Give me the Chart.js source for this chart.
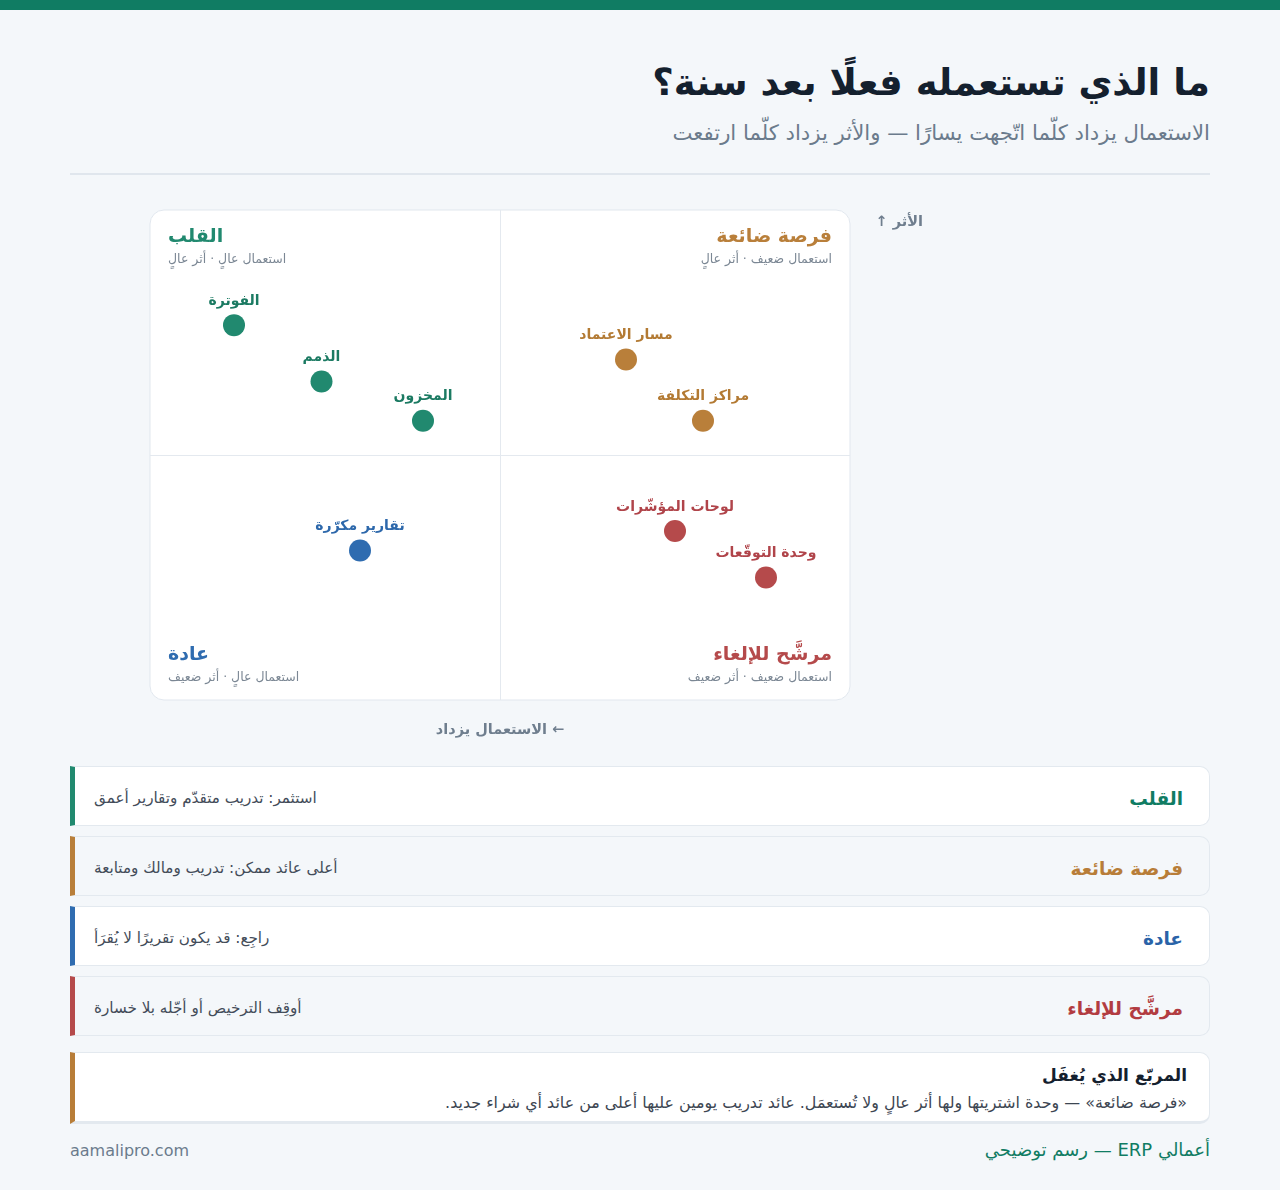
<!DOCTYPE html>
<html lang="ar">
<head>
<meta charset="utf-8">
<script src="https://cdn.jsdelivr.net/npm/chart.js@4.4.0/dist/chart.umd.min.js"></script>
<style>
  html, body { margin: 0; padding: 0; }
  body {
    width: 1280px; height: 1190px; position: relative; overflow: hidden;
    background: #f4f7fa; font-family: "DejaVu Sans", sans-serif;
  }
  .topbar { position: absolute; left: 0; top: 0; width: 1280px; height: 10px; background: #107c63; }
  .title {
    position: absolute; right: 70px; top: 61px; direction: rtl;
    font-size: 37px; font-weight: bold; color: #14202e; white-space: nowrap;
  }
  .subtitle {
    position: absolute; right: 70px; top: 120px; direction: rtl;
    font-size: 21.2px; color: #6b7b8c; white-space: nowrap;
  }
  .divider { position: absolute; left: 70px; top: 173px; width: 1140px; height: 2px; background: #e0e6ed; }
  .chartwrap { position: absolute; left: 70px; top: 190px; width: 1140px; height: 560px; }
  .card {
    position: absolute; left: 70px; width: 1140px; height: 60px; box-sizing: border-box;
    border: 1px solid #e3e9ef; border-left-width: 5px; border-radius: 0 10px 10px 0;
    display: flex; flex-direction: row-reverse; align-items: center; padding: 4px 26px 0 19px;
    direction: ltr;
  }
  .card .name { font-size: 18.5px; font-weight: bold; direction: rtl; }
  .card .desc { font-size: 15.2px; color: #434c59; direction: rtl; margin-right: auto; }
  .callout {
    position: absolute; left: 70px; top: 1052px; width: 1140px; height: 72px; box-sizing: border-box;
    background: #fff; border: 1px solid #e3e9ef; border-left: 5px solid #b87d38; border-bottom: 3px solid #e3e9ef;
    border-radius: 0 10px 10px 0; direction: rtl; padding: 12px 22px 0 0;
  }
  .callout .h { font-size: 17px; font-weight: bold; color: #14202e; }
  .callout .t { font-size: 15.9px; color: #3d4652; margin-top: 8px; }
  .foot-l { position: absolute; left: 70px; top: 1141px; font-size: 16px; color: #6b7b8c; }
  .foot-r { position: absolute; right: 70px; top: 1139px; font-size: 18px; color: #107c63; direction: rtl; }
</style>
</head>
<body>
<div class="topbar"></div>
<div class="title">ما الذي تستعمله فعلًا بعد سنة؟</div>
<div class="subtitle">الاستعمال يزداد كلّما اتّجهت يسارًا — والأثر يزداد كلّما ارتفعت</div>
<div class="divider"></div>

<div class="chartwrap"><canvas id="quadChart"></canvas></div>

<div id="cards"></div>

<div class="callout">
  <div class="h">المربّع الذي يُغفَل</div>
  <div class="t">«فرصة ضائعة» — وحدة اشتريتها ولها أثر عالٍ ولا تُستعمَل. عائد تدريب يومين عليها أعلى من عائد أي شراء جديد.</div>
</div>

<div class="foot-l">aamalipro.com</div>
<div class="foot-r">أعمالي ERP — رسم توضيحي</div>

<script>
// data
const modules = ["الفوترة", "الذمم", "المخزون", "مسار الاعتماد", "مراكز التكلفة", "تقارير مكرّرة", "لوحات المؤشّرات", "وحدة التوقّعات"];
const usage = [88, 75.5, 61, 32, 21, 70, 25, 12];
const impact = [76.5, 65, 57, 69.5, 57, 30.5, 34.5, 25];
const moduleQuadrant = [0, 0, 0, 1, 1, 2, 3, 3];

const quadNames = ["القلب", "فرصة ضائعة", "عادة", "مرشَّح للإلغاء"];
const quadSubs = ["استعمال عالٍ · أثر عالٍ", "استعمال ضعيف · أثر عالٍ", "استعمال عالٍ · أثر ضعيف", "استعمال ضعيف · أثر ضعيف"];
const quadAdvice = ["استثمر: تدريب متقدّم وتقارير أعمق", "أعلى عائد ممكن: تدريب ومالك ومتابعة", "راجِع: قد يكون تقريرًا لا يُقرَأ", "أوقِف الترخيص أو أجّله بلا خسارة"];
const quadColors = ["#21896f", "#b97f3a", "#2f6cb0", "#b54a4b"];
const labelColors = ["#1b7a62", "#b37a33", "#2d68ab", "#b0444a"];
const cardNameColors = ["#107c63", "#b87d38", "#2a63a8", "#b23c41"];

const usageMid = 50;
const impactMid = 50;

// cards below the chart
const cardBox = document.getElementById("cards");
quadNames.forEach((name, i) => {
  const c = document.createElement("div");
  c.className = "card";
  c.style.top = (766 + i * 70) + "px";
  c.style.background = i % 2 === 0 ? "#ffffff" : "#f4f7fa";
  c.style.borderLeftColor = quadColors[i];
  c.innerHTML = `<div class="name" style="color:${cardNameColors[i]}">${name}</div><div class="desc">${quadAdvice[i]}</div>`;
  cardBox.appendChild(c);
});

// Plot box, cross lines, quadrant captions, axis captions
const quadrantPlugin = {
  id: "quadrants",
  beforeDatasetsDraw(chart) {
    const { ctx, chartArea: a, scales } = chart;
    ctx.save();
    ctx.beginPath();
    ctx.roundRect(a.left, a.top, a.right - a.left, a.bottom - a.top, 14);
    ctx.fillStyle = "#ffffff";
    ctx.fill();
    ctx.lineWidth = 1;
    ctx.strokeStyle = "#e1e7ee";
    ctx.stroke();

    const mx = Math.round(scales.x.getPixelForValue(usageMid)) + 0.5;
    const my = Math.round(scales.y.getPixelForValue(impactMid)) + 0.5;
    ctx.strokeStyle = "#e4e9ef";
    ctx.beginPath();
    ctx.moveTo(mx, a.top); ctx.lineTo(mx, a.bottom);
    ctx.moveTo(a.left, my); ctx.lineTo(a.right, my);
    ctx.stroke();

    ctx.direction = "rtl";
    ctx.textBaseline = "middle";
    const spots = [
      { x: a.left + 18, y: a.top + 27, align: "left" },
      { x: a.right - 18, y: a.top + 27, align: "right" },
      { x: a.left + 18, y: a.bottom - 45, align: "left" },
      { x: a.right - 18, y: a.bottom - 45, align: "right" },
    ];
    spots.forEach((s, i) => {
      ctx.textAlign = s.align;
      ctx.font = "bold 19px 'DejaVu Sans'";
      ctx.fillStyle = quadColors[i];
      ctx.fillText(quadNames[i], s.x, s.y);
      ctx.font = "12.5px 'DejaVu Sans'";
      ctx.fillStyle = "#7b8794";
      ctx.fillText(quadSubs[i], s.x, s.y + 23);
    });

    ctx.font = "bold 14.5px 'DejaVu Sans'";
    ctx.fillStyle = "#6f7e8e";
    ctx.textAlign = "center";
    ctx.fillText("← الاستعمال يزداد", (a.left + a.right) / 2, a.bottom + 30);
    ctx.textAlign = "right";
    ctx.fillText("الأثر ↑", a.right + 73, a.top + 12);
    ctx.restore();
  },
  afterDatasetsDraw(chart) {
    const { ctx } = chart;
    ctx.save();
    ctx.direction = "rtl";
    ctx.font = "bold 14px 'DejaVu Sans'";
    ctx.textAlign = "center";
    ctx.textBaseline = "middle";
    chart.data.datasets.forEach((ds, di) => {
      const meta = chart.getDatasetMeta(di);
      meta.data.forEach((pt, j) => {
        ctx.fillStyle = labelColors[ds.quad];
        ctx.fillText(ds.names[j], pt.x, pt.y - 24);
      });
    });
    ctx.restore();
  },
};

const datasets = quadNames.map((name, q) => {
  const idx = modules.map((_, i) => i).filter(i => moduleQuadrant[i] === q);
  return {
    label: name,
    quad: q,
    names: idx.map(i => modules[i]),
    data: idx.map(i => ({ x: usage[i], y: impact[i] })),
    backgroundColor: quadColors[q],
    borderWidth: 0,
    pointRadius: 11,
    pointHoverRadius: 11,
  };
});

const ctx = document.getElementById("quadChart").getContext("2d");
new Chart(ctx, {
  type: "scatter",
  data: { datasets },
  options: {
    responsive: true,
    maintainAspectRatio: false,
    animation: false,
    layout: { padding: { left: 80, right: 360, top: 20, bottom: 50 } },
    scales: {
      x: { display: false, min: 0, max: 100, reverse: true },
      y: { display: false, min: 0, max: 100 },
    },
    plugins: {
      legend: { display: false },
      tooltip: { enabled: false },
    },
  },
  plugins: [quadrantPlugin],
});
</script>
</body>
</html>
